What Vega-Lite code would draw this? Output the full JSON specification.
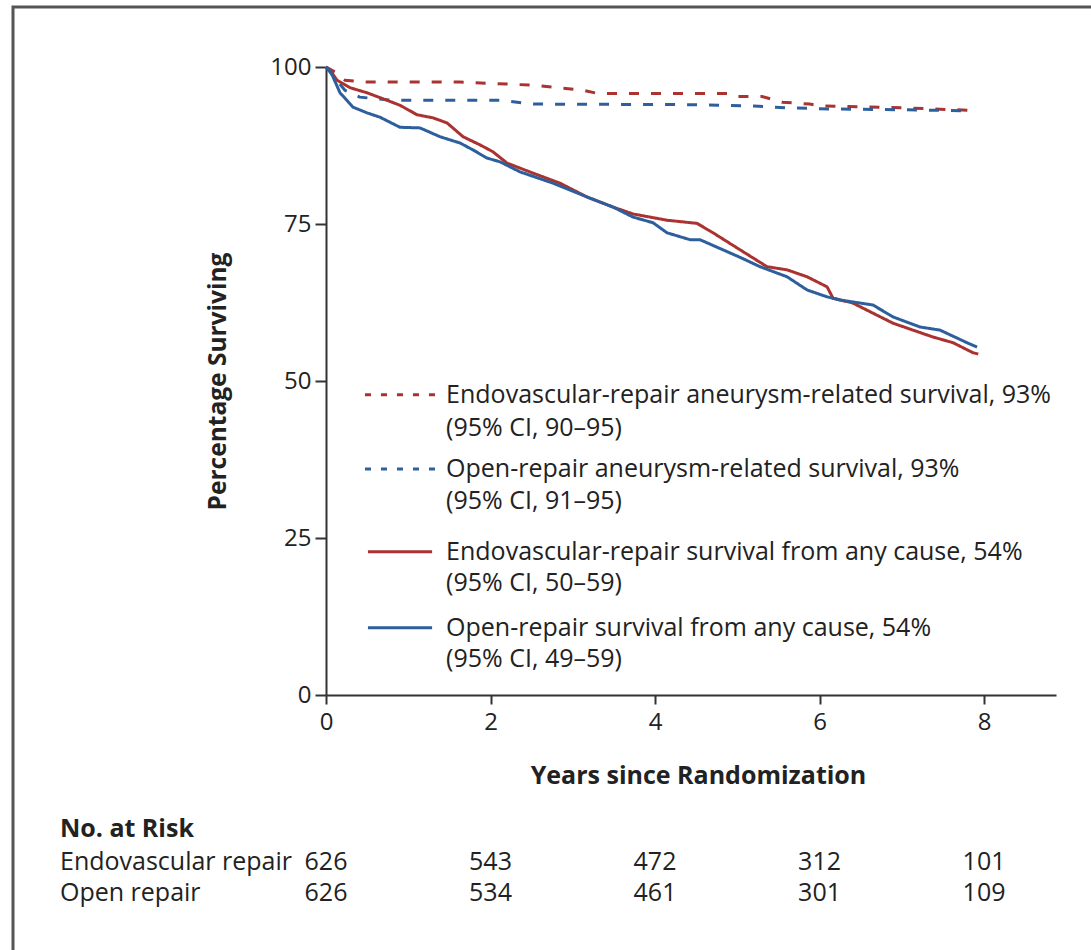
{
  "$schema": "https://vega.github.io/schema/vega-lite/v6.json",
  "width": 1100,
  "height": 950,
  "autosize": {"type": "none"},
  "padding": {"left": 13, "top": 7, "right": 0, "bottom": 0},
  "background": "white",
  "config": {
    "view": {"stroke": "#555555", "strokeWidth": 3},
    "font": "Open Sans",
    "text": {"font": "Open Sans", "fontSize": 25, "color": "#222222"}
  },
  "datasets": {
    "curves": [
      {"arm": "Endovascular", "type": "Aneurysm", "t": 0, "s": 100},
      {"arm": "Endovascular", "type": "Aneurysm", "t": 0.11, "s": 99.2},
      {"arm": "Endovascular", "type": "Aneurysm", "t": 0.23, "s": 97.9},
      {"arm": "Endovascular", "type": "Aneurysm", "t": 0.45, "s": 97.6},
      {"arm": "Endovascular", "type": "Aneurysm", "t": 1.63, "s": 97.6},
      {"arm": "Endovascular", "type": "Aneurysm", "t": 2.52, "s": 97.1},
      {"arm": "Endovascular", "type": "Aneurysm", "t": 3.12, "s": 96.3},
      {"arm": "Endovascular", "type": "Aneurysm", "t": 3.3, "s": 95.8},
      {"arm": "Endovascular", "type": "Aneurysm", "t": 4.9, "s": 95.8},
      {"arm": "Endovascular", "type": "Aneurysm", "t": 5.0, "s": 95.3},
      {"arm": "Endovascular", "type": "Aneurysm", "t": 5.3, "s": 95.3},
      {"arm": "Endovascular", "type": "Aneurysm", "t": 5.55, "s": 94.4},
      {"arm": "Endovascular", "type": "Aneurysm", "t": 5.88, "s": 94.1},
      {"arm": "Endovascular", "type": "Aneurysm", "t": 6.0, "s": 93.8},
      {"arm": "Endovascular", "type": "Aneurysm", "t": 7.0, "s": 93.5},
      {"arm": "Endovascular", "type": "Aneurysm", "t": 7.85, "s": 93.1},
      {"arm": "Open", "type": "Aneurysm", "t": 0, "s": 100},
      {"arm": "Open", "type": "Aneurysm", "t": 0.11, "s": 98.2},
      {"arm": "Open", "type": "Aneurysm", "t": 0.23, "s": 96.3},
      {"arm": "Open", "type": "Aneurysm", "t": 0.41, "s": 95.2},
      {"arm": "Open", "type": "Aneurysm", "t": 0.81, "s": 94.7},
      {"arm": "Open", "type": "Aneurysm", "t": 2.12, "s": 94.7},
      {"arm": "Open", "type": "Aneurysm", "t": 2.52, "s": 94.1},
      {"arm": "Open", "type": "Aneurysm", "t": 4.5, "s": 94.0},
      {"arm": "Open", "type": "Aneurysm", "t": 5.2, "s": 93.8},
      {"arm": "Open", "type": "Aneurysm", "t": 5.6, "s": 93.5},
      {"arm": "Open", "type": "Aneurysm", "t": 6.2, "s": 93.3},
      {"arm": "Open", "type": "Aneurysm", "t": 7.0, "s": 93.2},
      {"arm": "Open", "type": "Aneurysm", "t": 7.85, "s": 93.0},
      {"arm": "Endovascular", "type": "Any", "t": 0, "s": 100},
      {"arm": "Endovascular", "type": "Any", "t": 0.049, "s": 99.5},
      {"arm": "Endovascular", "type": "Any", "t": 0.134, "s": 97.9},
      {"arm": "Endovascular", "type": "Any", "t": 0.292, "s": 96.7},
      {"arm": "Endovascular", "type": "Any", "t": 0.498, "s": 95.9},
      {"arm": "Endovascular", "type": "Any", "t": 0.742, "s": 94.7},
      {"arm": "Endovascular", "type": "Any", "t": 0.9, "s": 93.9},
      {"arm": "Endovascular", "type": "Any", "t": 1.106, "s": 92.4},
      {"arm": "Endovascular", "type": "Any", "t": 1.301, "s": 91.9},
      {"arm": "Endovascular", "type": "Any", "t": 1.471, "s": 91.1},
      {"arm": "Endovascular", "type": "Any", "t": 1.666, "s": 88.9},
      {"arm": "Endovascular", "type": "Any", "t": 1.872, "s": 87.6},
      {"arm": "Endovascular", "type": "Any", "t": 2.03, "s": 86.5},
      {"arm": "Endovascular", "type": "Any", "t": 2.201, "s": 84.7},
      {"arm": "Endovascular", "type": "Any", "t": 2.517, "s": 83.1},
      {"arm": "Endovascular", "type": "Any", "t": 2.845, "s": 81.5},
      {"arm": "Endovascular", "type": "Any", "t": 3.173, "s": 79.3},
      {"arm": "Endovascular", "type": "Any", "t": 3.489, "s": 77.7},
      {"arm": "Endovascular", "type": "Any", "t": 3.733, "s": 76.6},
      {"arm": "Endovascular", "type": "Any", "t": 4.146, "s": 75.6},
      {"arm": "Endovascular", "type": "Any", "t": 4.511, "s": 75.1},
      {"arm": "Endovascular", "type": "Any", "t": 4.705, "s": 73.6},
      {"arm": "Endovascular", "type": "Any", "t": 5.033, "s": 70.9},
      {"arm": "Endovascular", "type": "Any", "t": 5.362, "s": 68.2},
      {"arm": "Endovascular", "type": "Any", "t": 5.605, "s": 67.7},
      {"arm": "Endovascular", "type": "Any", "t": 5.848, "s": 66.6},
      {"arm": "Endovascular", "type": "Any", "t": 6.091, "s": 65.0},
      {"arm": "Endovascular", "type": "Any", "t": 6.164, "s": 63.2},
      {"arm": "Endovascular", "type": "Any", "t": 6.407, "s": 62.4},
      {"arm": "Endovascular", "type": "Any", "t": 6.65, "s": 60.8},
      {"arm": "Endovascular", "type": "Any", "t": 6.894, "s": 59.2},
      {"arm": "Endovascular", "type": "Any", "t": 7.137, "s": 58.1},
      {"arm": "Endovascular", "type": "Any", "t": 7.38, "s": 57.0},
      {"arm": "Endovascular", "type": "Any", "t": 7.623, "s": 56.1},
      {"arm": "Endovascular", "type": "Any", "t": 7.866, "s": 54.5},
      {"arm": "Endovascular", "type": "Any", "t": 7.93, "s": 54.3},
      {"arm": "Open", "type": "Any", "t": 0, "s": 100},
      {"arm": "Open", "type": "Any", "t": 0.049, "s": 99.5},
      {"arm": "Open", "type": "Any", "t": 0.17, "s": 95.9},
      {"arm": "Open", "type": "Any", "t": 0.328, "s": 93.6},
      {"arm": "Open", "type": "Any", "t": 0.498, "s": 92.7},
      {"arm": "Open", "type": "Any", "t": 0.657, "s": 92.0},
      {"arm": "Open", "type": "Any", "t": 0.778, "s": 91.2},
      {"arm": "Open", "type": "Any", "t": 0.9, "s": 90.4},
      {"arm": "Open", "type": "Any", "t": 1.143, "s": 90.3},
      {"arm": "Open", "type": "Any", "t": 1.386, "s": 88.9},
      {"arm": "Open", "type": "Any", "t": 1.629, "s": 87.9},
      {"arm": "Open", "type": "Any", "t": 1.787, "s": 86.8},
      {"arm": "Open", "type": "Any", "t": 1.957, "s": 85.5},
      {"arm": "Open", "type": "Any", "t": 2.116, "s": 84.9},
      {"arm": "Open", "type": "Any", "t": 2.359, "s": 83.3},
      {"arm": "Open", "type": "Any", "t": 2.76, "s": 81.5},
      {"arm": "Open", "type": "Any", "t": 3.173, "s": 79.3},
      {"arm": "Open", "type": "Any", "t": 3.489, "s": 77.7},
      {"arm": "Open", "type": "Any", "t": 3.733, "s": 76.1},
      {"arm": "Open", "type": "Any", "t": 3.976, "s": 75.2},
      {"arm": "Open", "type": "Any", "t": 4.146, "s": 73.6},
      {"arm": "Open", "type": "Any", "t": 4.426, "s": 72.5},
      {"arm": "Open", "type": "Any", "t": 4.547, "s": 72.5},
      {"arm": "Open", "type": "Any", "t": 4.754, "s": 71.3},
      {"arm": "Open", "type": "Any", "t": 5.033, "s": 69.7},
      {"arm": "Open", "type": "Any", "t": 5.277, "s": 68.2},
      {"arm": "Open", "type": "Any", "t": 5.605, "s": 66.6},
      {"arm": "Open", "type": "Any", "t": 5.848, "s": 64.5},
      {"arm": "Open", "type": "Any", "t": 6.091, "s": 63.4},
      {"arm": "Open", "type": "Any", "t": 6.249, "s": 62.9},
      {"arm": "Open", "type": "Any", "t": 6.65, "s": 62.1},
      {"arm": "Open", "type": "Any", "t": 6.894, "s": 60.2},
      {"arm": "Open", "type": "Any", "t": 7.222, "s": 58.6},
      {"arm": "Open", "type": "Any", "t": 7.465, "s": 58.1},
      {"arm": "Open", "type": "Any", "t": 7.793, "s": 56.1},
      {"arm": "Open", "type": "Any", "t": 7.915, "s": 55.4}
    ],
    "legendLines": [
      {"arm": "Endovascular", "type": "Aneurysm", "x1": 0.474, "x2": 1.325, "y": 47.8},
      {"arm": "Open", "type": "Aneurysm", "x1": 0.474, "x2": 1.325, "y": 36.0},
      {"arm": "Endovascular", "type": "Any", "x1": 0.51, "x2": 1.29, "y": 22.8},
      {"arm": "Open", "type": "Any", "x1": 0.51, "x2": 1.29, "y": 10.7}
    ],
    "legendText": [
      {"x": 1.46, "y": 47.8, "label": "Endovascular-repair aneurysm-related survival, 93%"},
      {"x": 1.46, "y": 42.5, "label": "(95% CI, 90–95)"},
      {"x": 1.46, "y": 36.0, "label": "Open-repair aneurysm-related survival, 93%"},
      {"x": 1.46, "y": 30.9, "label": "(95% CI, 91–95)"},
      {"x": 1.46, "y": 22.8, "label": "Endovascular-repair survival from any cause, 54%"},
      {"x": 1.46, "y": 17.8, "label": "(95% CI, 50–59)"},
      {"x": 1.46, "y": 10.7, "label": "Open-repair survival from any cause, 54%"},
      {"x": 1.46, "y": 5.7, "label": "(95% CI, 49–59)"}
    ],
    "riskLabels": [
      {"x": -3.234, "y": -26.6, "label": "Endovascular repair"},
      {"x": -3.234, "y": -31.5, "label": "Open repair"}
    ],
    "riskHeader": [
      {"x": -3.234, "y": -21.3, "label": "No. at Risk"}
    ],
    "riskNumbers": [
      {"x": 0, "y": -26.6, "n": "626"},
      {"x": 2, "y": -26.6, "n": "543"},
      {"x": 4, "y": -26.6, "n": "472"},
      {"x": 6, "y": -26.6, "n": "312"},
      {"x": 8, "y": -26.6, "n": "101"},
      {"x": 0, "y": -31.5, "n": "626"},
      {"x": 2, "y": -31.5, "n": "534"},
      {"x": 4, "y": -31.5, "n": "461"},
      {"x": 6, "y": -31.5, "n": "301"},
      {"x": 8, "y": -31.5, "n": "109"}
    ]
  },
  "layer": [
    {
      "data": {"name": "curves"},
      "mark": {"type": "line", "strokeWidth": 3, "interpolate": "linear"},
      "encoding": {
        "x": {
          "field": "t", "type": "quantitative",
          "scale": {"domain": [0, 8.875], "range": [313, 1043], "nice": false, "zero": false},
          "axis": {
            "orient": "bottom", "offset": -262, "values": [0, 2, 4, 6, 8], "format": "d", "labelFlush": false,
            "title": "Years since Randomization", "grid": false,
            "domainColor": "#333333", "domainWidth": 2, "tickColor": "#333333", "tickWidth": 2, "tickSize": 9,
            "labelFontSize": 24, "labelColor": "#222222", "labelPadding": 6, "labelFont": "Open Sans",
            "titleFontSize": 25, "titleFontWeight": "bold", "titleColor": "#222222", "titleFont": "Open Sans",
            "titleX": 685, "titleY": 80, "titleBaseline": "middle", "titleAlign": "center"
          }
        },
        "y": {
          "field": "s", "type": "quantitative",
          "scale": {"domain": [0, 100], "range": [688, 60], "nice": false, "zero": false},
          "axis": {
            "orient": "left", "offset": -313, "values": [0, 25, 50, 75, 100], "format": "d", "labelFlush": false,
            "title": "Percentage Surviving", "grid": false,
            "domainColor": "#333333", "domainWidth": 2, "tickColor": "#333333", "tickWidth": 2, "tickSize": 11,
            "labelFontSize": 24, "labelColor": "#222222", "labelPadding": 4, "labelFont": "Open Sans",
            "titleFontSize": 24.5, "titleFontWeight": "bold", "titleColor": "#222222", "titleFont": "Open Sans",
            "titleX": -108, "titleY": 374, "titleBaseline": "middle", "titleAlign": "center", "titleAngle": 270
          }
        },
        "color": {
          "field": "arm", "type": "nominal",
          "scale": {"domain": ["Endovascular", "Open"], "range": ["#aa3230", "#2d5f9c"]},
          "legend": null
        },
        "strokeDash": {
          "field": "type", "type": "nominal",
          "scale": {"domain": ["Aneurysm", "Any"], "range": [[10, 12], [1, 0]]},
          "legend": null
        },
        "detail": {"field": "type"}
      }
    },
    {
      "data": {"name": "legendLines"},
      "transform": [{"filter": "datum.type === 'Aneurysm'"}],
      "mark": {"type": "rule", "strokeWidth": 3, "strokeDash": [6, 10]},
      "encoding": {
        "x": {"field": "x1", "type": "quantitative"},
        "x2": {"field": "x2"},
        "y": {"field": "y", "type": "quantitative"},
        "color": {"field": "arm", "type": "nominal", "legend": null}
      }
    },
    {
      "data": {"name": "legendLines"},
      "transform": [{"filter": "datum.type === 'Any'"}],
      "mark": {"type": "rule", "strokeWidth": 3},
      "encoding": {
        "x": {"field": "x1", "type": "quantitative"},
        "x2": {"field": "x2"},
        "y": {"field": "y", "type": "quantitative"},
        "color": {"field": "arm", "type": "nominal", "legend": null}
      }
    },
    {
      "data": {"name": "legendText"},
      "mark": {"type": "text", "align": "left", "baseline": "middle", "fontSize": 25, "color": "#222222"},
      "encoding": {
        "x": {"field": "x", "type": "quantitative"},
        "y": {"field": "y", "type": "quantitative"},
        "text": {"field": "label"}
      }
    },
    {
      "data": {"name": "riskHeader"},
      "mark": {"type": "text", "align": "left", "baseline": "middle", "fontSize": 25, "fontWeight": "bold", "color": "#222222"},
      "encoding": {
        "x": {"field": "x", "type": "quantitative"},
        "y": {"field": "y", "type": "quantitative"},
        "text": {"field": "label"}
      }
    },
    {
      "data": {"name": "riskLabels"},
      "mark": {"type": "text", "align": "left", "baseline": "middle", "fontSize": 25, "color": "#222222"},
      "encoding": {
        "x": {"field": "x", "type": "quantitative"},
        "y": {"field": "y", "type": "quantitative"},
        "text": {"field": "label"}
      }
    },
    {
      "data": {"name": "riskNumbers"},
      "mark": {"type": "text", "align": "center", "baseline": "middle", "fontSize": 25, "color": "#222222"},
      "encoding": {
        "x": {"field": "x", "type": "quantitative"},
        "y": {"field": "y", "type": "quantitative"},
        "text": {"field": "n"}
      }
    }
  ]
}
